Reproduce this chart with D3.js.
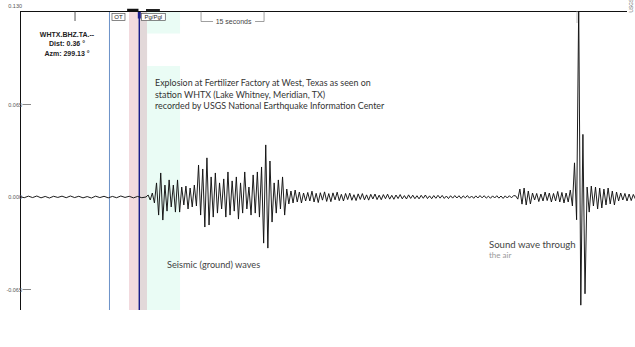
<!DOCTYPE html>
<html><head><meta charset="utf-8">
<script src="https://cdnjs.cloudflare.com/ajax/libs/d3/7.8.5/d3.min.js"></script>
<style>
html,body{margin:0;padding:0;background:#fff;}
svg{display:block;}
</style></head>
<body>
<script>
// ---- data (amplitudes in units of 0.001, time in seconds from trace start) ----
const yTickValues = [130, 65, 0, -65];
const yTickLabels = ["0.130", "0.065", "0.000", "-0.065"];

// quiet pre-event noise, t = 0 .. 29 s, step 1 s
const preNoiseStart = 0, preNoiseStep = 1;
const preNoise = [0.3,-0.5,0.6,-0.4,0.7,-0.6,0.4,-0.7,0.5,-0.3,0.6,-0.5,0.7,-0.4,0.5,-0.6,0.3,-0.7,0.6,-0.4,0.5,-0.6,0.4,-0.5,0.7,-0.3,0.5,-0.6,0.4,-0.5];

// seismic (ground) waves, t = 30 .. 68 s, step 0.5 s
const groundStart = 30, groundStep = 0.5;
const groundWaves = [0,1.4,-2.1,2.8,-4.2,9.9,-12.7,16.9,-16.2,8.4,-9.9,12.0,-7.0,8.4,-10.6,12.0,-10.6,7.0,-5.6,7.7,-8.4,6.3,-7.0,8.4,-6.3,22.5,-12.7,19.7,-21.1,27.5,-19.7,14.1,-14.1,16.9,-11.3,9.9,-8.4,12.7,-14.1,17.6,-12.7,11.3,-9.9,14.1,-15.5,9.9,-11.3,17.6,-8.4,7.0,-12.7,15.5,-11.3,17.6,-14.1,21.1,-32.4,36.6,-35.9,25.3,-17.6,9.9,-11.3,12.0,-8.4,14.1,-12.7,5.6,-4.9,4.2,-4.2,4.9,-3.5,3.5,-4.2,2.8,-2.8];

// coda, t = 68.5 .. 117.5 s, step 0.5 s
const codaStart = 68.5, codaStep = 0.5;
const coda = [3.2,-2.8,4.1,-3.5,2.6,-3.9,3.0,-2.2,3.6,-3.1,2.4,-3.3,2.9,-2.0,3.4,-2.6,1.9,-2.8,2.5,-1.8,2.7,-2.3,1.6,-2.5,2.2,-1.7,2.4,-2.0,1.5,-2.2,1.9,-1.4,2.1,-1.8,1.3,-1.9,1.7,-1.2,2.0,-1.5,1.2,-1.6,1.4,-1.1,1.7,-1.3,1.0,-1.4,1.5,-1.0,1.3,-1.2,0.9,-1.3,1.2,-0.9,1.4,-1.1,0.8,-1.2,1.0,-0.9,1.2,-0.8,1.1,-1.0,0.7,-1.1,0.9,-0.8,1.0,-0.7,0.9,-1.0,0.8,-0.6,1.0,-0.8,0.7,-0.9,0.8,-0.7,1.0,-0.6,0.9,-0.8,0.6,-0.9,0.8,-0.7,0.9,-0.8,0.7,-1.0,0.8,-0.7,0.9,-0.6,1.0];

// sound wave through the air, t = 118 .. 146.5 s, step 0.5 s
const airStart = 118, airStep = 0.5;
const airWave = [0.8,-1.5,5.6,-5.0,6.3,-5.6,4.2,-4.9,2.8,-2.1,2.5,-3.2,2.1,-2.8,3.5,-2.5,2.8,-3.5,2.5,-2.8,3.9,-3.5,3.2,-4.2,2.8,-3.5,4.9,-6.3,24,-16,135,-76,44,-68,7.0,-10.6,7.7,-6.3,7.0,-8.4,6.3,-7.7,5.6,-5.6,6.3,-4.9,4.2,-5.6,3.5,-2.8,2.8,-2.1,2.5,-2.8,2.1,-2.5,1.8,-1.4];

// phase markers (seconds)
const otTime = 21.3;
const pgTime = 28.4;
const pinkBand = [25.95, 28.1];
const greyBand = [28.1, 30.25];
const cyanBand = [30.25, 38.1];
const topTickTimes = [13.1];
const lightTickTimes = [132.6];
const scaleBar = [43.1, 58.1]; // 15 seconds

const titleLines = [
  "Explosion at Fertilizer Factory at West, Texas as seen on",
  "station WHTX (Lake Whitney, Meridian, TX)",
  "recorded by USGS National Earthquake Information Center"
];
const stationLines = ["WHTX.BHZ.TA.--", "Dist: 0.36 \u00b0", "Azm: 299.13 \u00b0"];

// ---- build ----
function seg(arr, t0, dt){ return arr.map((v,i)=>({t:t0+i*dt, v})); }
const trace = [].concat(
  seg(preNoise, preNoiseStart, preNoiseStep),
  seg(groundWaves, groundStart, groundStep),
  seg(coda, codaStart, codaStep),
  seg(airWave, airStart, airStep)
);

const W = 635, H = 347;
const pL = 20.5, pR = 635, pT = 11.5, pB = 310;
const x = d3.scaleLinear().domain([0, 146.4]).range([20, 635]);
const y = d3.scaleLinear().domain([-79.4, 130]).range([pB, 12]);

const svg = d3.select("body").append("svg").attr("width", W).attr("height", H);

svg.append("defs").append("clipPath").attr("id","plotclip")
  .append("rect").attr("x", pL).attr("y", pT).attr("width", pR-pL).attr("height", pB-pT);

// bands
svg.append("rect").attr("x", x(pinkBand[0])).attr("y", pT).attr("width", x(pinkBand[1])-x(pinkBand[0])).attr("height", pB-pT).attr("fill", "#f2dade");
svg.append("rect").attr("x", x(greyBand[0])).attr("y", pT).attr("width", x(greyBand[1])-x(greyBand[0])).attr("height", pB-pT).attr("fill", "#e2d8d9");
svg.append("rect").attr("x", x(cyanBand[0])).attr("y", pT).attr("width", x(cyanBand[1])-x(cyanBand[0])).attr("height", 22).attr("fill", "#eafcf5");
svg.append("rect").attr("x", x(cyanBand[0])).attr("y", 66).attr("width", x(cyanBand[1])-x(cyanBand[0])).attr("height", pB-66).attr("fill", "#eafcf5");

// OT line and Pg line
svg.append("line").attr("x1", x(otTime)).attr("x2", x(otTime)).attr("y1", pT).attr("y2", pB).attr("stroke", "#6b91c8").attr("stroke-width", 1);
svg.append("line").attr("x1", x(pgTime)).attr("x2", x(pgTime)).attr("y1", pT).attr("y2", pB).attr("stroke", "#1b1b8a").attr("stroke-width", 1.4);
svg.append("line").attr("x1", x(pgTime)).attr("x2", x(pgTime)).attr("y1", pT).attr("y2", pT+7).attr("stroke", "#1b1b8a").attr("stroke-width", 3);

// thick top marks
svg.append("line").attr("x1", x(25.5)).attr("x2", x(28.2)).attr("y1", 10).attr("y2", 10).attr("stroke", "#111").attr("stroke-width", 2.5);
svg.append("line").attr("x1", x(30)).attr("x2", x(33.3)).attr("y1", 10).attr("y2", 10).attr("stroke", "#222").attr("stroke-width", 2);

// axes frame
svg.append("line").attr("x1", pL).attr("x2", pL).attr("y1", pT).attr("y2", pB).attr("stroke", "#111").attr("stroke-width", 1);
svg.append("line").attr("x1", 20).attr("x2", 627).attr("y1", pT).attr("y2", pT).attr("stroke", "#111").attr("stroke-width", 1);

// y ticks
const yAxis = d3.axisLeft(y).tickValues(yTickValues).tickFormat((d,i)=>yTickLabels[i]).tickSize(0).tickPadding(0);
const ga = svg.append("g").attr("transform", `translate(${pL},0)`).call(yAxis);
ga.select(".domain").remove();
ga.selectAll("text").attr("font-family","Liberation Sans, Arial, sans-serif").attr("font-size", 5.5).attr("fill","#555").attr("x", 1.5);
ga.selectAll(".tick").filter(d=>d===130).select("text").attr("dy", "-0.9em");
svg.selectAll(".ytick").data(yTickValues.filter(d=>d!==0 && d!==130)).enter().append("line")
  .attr("x1", pL+2).attr("x2", pL+10.5).attr("y1", d=>y(d)).attr("y2", d=>y(d)).attr("stroke", "#888").attr("stroke-width", 1);

// small ticks at top
topTickTimes.forEach(t=>{
  svg.append("line").attr("x1", x(t)).attr("x2", x(t)).attr("y1", pT).attr("y2", 21).attr("stroke", "#555").attr("stroke-width", 1);
});
lightTickTimes.forEach(t=>{
  svg.append("line").attr("x1", x(t)).attr("x2", x(t)).attr("y1", pT).attr("y2", 23).attr("stroke", "#c8c8c8").attr("stroke-width", 1.2);
});

// 15 seconds scale bar
const sb = svg.append("g").attr("stroke", "#888").attr("stroke-width", 0.8).attr("fill","none");
sb.append("path").attr("d", `M${x(scaleBar[0])},${pT}V21.5H${x(scaleBar[0])+12}`);
sb.append("path").attr("d", `M${x(scaleBar[1])-9},21.5H${x(scaleBar[1])}V${pT}`);
svg.append("text").attr("x", (x(scaleBar[0])+x(scaleBar[1]))/2+1).attr("y", 23.5).attr("text-anchor","middle")
  .attr("font-family","Liberation Sans, Arial, sans-serif").attr("font-size", 7).attr("fill","#444").text("15 seconds");

// phase label boxes
function labelBox(t, txt, dx, w){
  const g = svg.append("g");
  g.append("rect").attr("x", x(t)+dx).attr("y", 13.5).attr("width", w).attr("height", 7).attr("fill", "#fff").attr("stroke", "#555").attr("stroke-width", 0.7);
  g.append("text").attr("x", x(t)+dx+w/2).attr("y", 19.3).attr("text-anchor","middle")
    .attr("font-family","Liberation Sans, Arial, sans-serif").attr("font-size", 6).attr("fill","#222").text(txt);
}
labelBox(otTime, "OT", 2.5, 13);
labelBox(pgTime, "Pg/Pgl", 2, 24);

// station info
svg.selectAll(".st").data(stationLines).enter().append("text")
  .attr("x", 67).attr("y", (d,i)=>36.5+i*9.5).attr("text-anchor","middle")
  .attr("font-family","Liberation Sans, Arial, sans-serif").attr("font-weight","bold").attr("font-size", 7).attr("fill","#222").text(d=>d);

// trace
const line = d3.line().x(d=>x(d.t)).y(d=>y(d.v));
svg.append("path").datum(trace).attr("clip-path","url(#plotclip)").attr("d", line)
  .attr("fill","none").attr("stroke","#111").attr("stroke-width", 0.95).attr("stroke-linejoin","miter");

// annotations
svg.selectAll(".tt").data(titleLines).enter().append("text")
  .attr("x", 155).attr("y", (d,i)=>86+i*11.5)
  .attr("font-family","Lato, 'Open Sans', sans-serif").attr("font-size", 8.9).attr("fill","#333").text(d=>d);
svg.append("text").attr("x", 167).attr("y", 268).attr("font-family","Lato, 'Open Sans', sans-serif").attr("font-size", 9.2).attr("fill","#444").text("Seismic (ground) waves");
svg.append("text").attr("x", 489).attr("y", 247.5).attr("font-family","Lato, 'Open Sans', sans-serif").attr("font-size", 9.6).attr("fill","#444").text("Sound wave through");
svg.append("text").attr("x", 489).attr("y", 258).attr("font-family","Lato, 'Open Sans', sans-serif").attr("font-size", 8).attr("fill","#999").text("the air");

// USGS rotated text at top-right
svg.append("text").attr("transform","translate(633,12.5) rotate(-90)").attr("font-family","Liberation Sans, Arial, sans-serif")
  .attr("font-size", 4.8).attr("fill","#666").text("USGS");
</script>
</body></html>
